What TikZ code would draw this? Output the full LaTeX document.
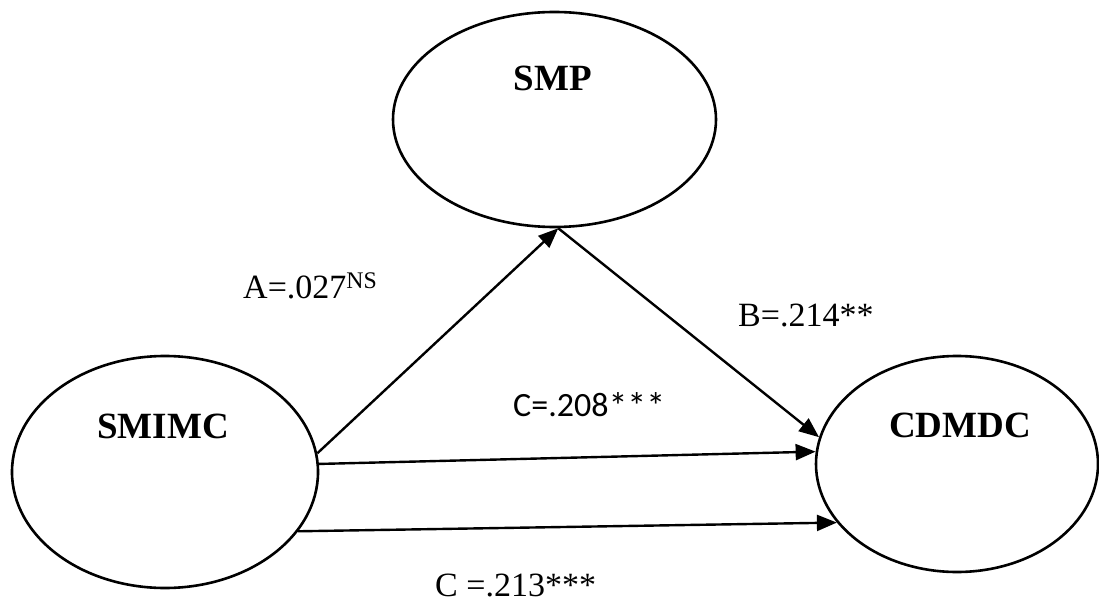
\documentclass[tikz,border=0pt]{standalone}
\usepackage{fontspec}
\setmainfont{Liberation Serif}
\newfontfamily\calibri{Carlito}
\usetikzlibrary{shapes.geometric,arrows.meta}
\begin{document}
\begin{tikzpicture}[x=1pt,y=-1pt,
  latent/.style={draw=black,line width=2.6pt,ellipse,inner sep=0pt},
  title/.style={font=\fontsize{37}{40}\selectfont\bfseries,anchor=base,inner sep=0pt},
  coef/.style={font=\fontsize{34}{38}\selectfont,anchor=base west,inner sep=0pt},
  path/.style={line width=2.4pt,-{Triangle[length=20pt,width=16pt]}}]
\useasboundingbox (0,0) rectangle (1099,604);
\fill[white] (0,0) rectangle (1099,604);
\node[latent,minimum width=323pt,minimum height=215pt] (smp) at (554.5,119.5) {};
\node[latent,minimum width=306pt,minimum height=232pt] (smimc) at (165,472) {};
\node[latent,minimum width=282pt,minimum height=216pt] (cdmdc) at (957,464) {};
\node[title] (smpt) at (553,91) {SMP};
\node[title] (smimct) at (163,438) {SMIMC};
\node[title] (cdmdct) at (960,437) {CDMDC};
\coordinate (smpb) at (smp.-88);
\draw[path] (smimc.7) -- (smpb);
\draw[path] (smpb) -- (cdmdc.169);
\draw[path] (smimc.3.4) -- (cdmdc.175);
\draw[path] (smimc.-24.6) -- (cdmdc.206);
\node[coef] (a) at (243,298) {A=.027\textsuperscript{NS}};
\node[coef] (b) at (738,326) {B=.214**};
\node[coef,font=\fontsize{34}{38}\selectfont\calibri] (c1) at (513,416) {C=.208\raisebox{-3pt}{\fontsize{38}{38}\selectfont***}};
\node[coef] (c2) at (435,596) {C =.213***};
\end{tikzpicture}
\end{document}
